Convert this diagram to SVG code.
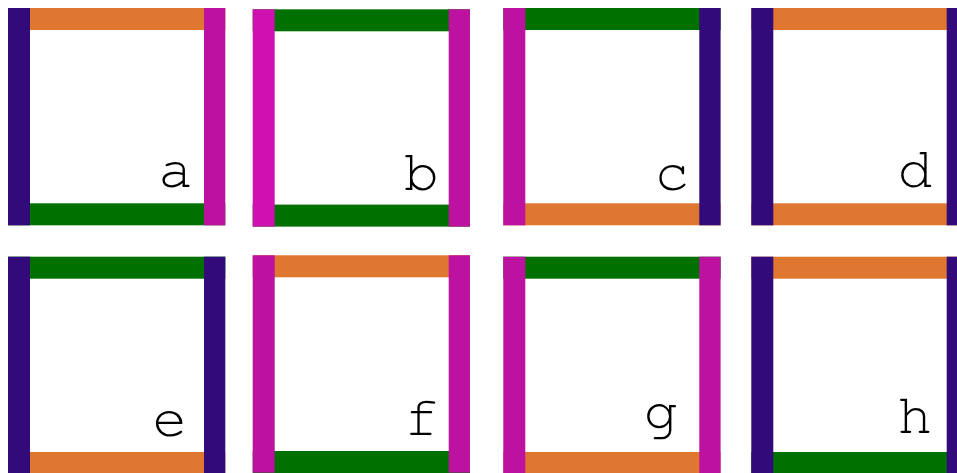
<svg xmlns="http://www.w3.org/2000/svg" width="957" height="473" viewBox="0 0 957 473">
<style>
.o{fill:#DF7731}.i{fill:#330A7A}.m{fill:#BD11A0}.mb{fill:#CF11AF}.g{fill:#007000}
text{font-family:"Nimbus Mono PS","FreeMono","Courier","Liberation Mono","Courier New",monospace;font-size:58px;fill:#000;text-anchor:end}
</style>
<rect width="957" height="473" fill="#fff"/>
<g id="a" transform="translate(8,8)">
<rect class="o" x="0" y="0" width="217.3" height="22"/>
<rect class="g" x="0" y="195.3" width="217.3" height="22"/>
<rect class="i" x="0" y="0" width="22" height="217.3"/>
<rect class="m" x="196" y="0" width="21.3" height="217.3"/>
<text x="185" y="179">a</text>
</g>
<g id="b" transform="translate(252.7,9.3)">
<rect class="g" x="0" y="0" width="217.3" height="22"/>
<rect class="g" x="0" y="195.3" width="217.3" height="22"/>
<rect class="mb" x="0" y="0" width="22" height="217.3"/>
<rect class="m" x="196" y="0" width="21.3" height="217.3"/>
<text x="186" y="181">b</text>
</g>
<g id="c" transform="translate(503.3,8)">
<rect class="g" x="0" y="0" width="217.3" height="22"/>
<rect class="o" x="0" y="195.3" width="217.3" height="22"/>
<rect class="m" x="0" y="0" width="22" height="217.3"/>
<rect class="i" x="196" y="0" width="21.3" height="217.3"/>
<text x="186" y="182">c</text>
</g>
<g id="d" transform="translate(751.3,8)">
<rect class="o" x="0" y="0" width="217.3" height="22"/>
<rect class="o" x="0" y="195.3" width="217.3" height="22"/>
<rect class="i" x="0" y="0" width="22" height="217.3"/>
<rect class="i" x="195.4" y="0" width="21.9" height="217.3"/>
<text x="181" y="179">d</text>
</g>
<g id="e" transform="translate(8,256.7)">
<rect class="g" x="0" y="0" width="217.3" height="22"/>
<rect class="o" x="0" y="195.3" width="217.3" height="22"/>
<rect class="i" x="0" y="0" width="22" height="217.3"/>
<rect class="i" x="196" y="0" width="21.3" height="217.3"/>
<text x="179" y="179">e</text>
</g>
<g id="f" transform="translate(252.7,255.3)">
<rect class="o" x="0" y="0" width="217.3" height="22"/>
<rect class="g" x="0" y="195.7" width="217.3" height="22"/>
<rect class="m" x="0" y="0" width="22" height="217.3"/>
<rect class="m" x="196" y="0" width="21.3" height="217.3"/>
<text x="186" y="180">f</text>
</g>
<g id="g" transform="translate(503.3,256.7)">
<rect class="g" x="0" y="0" width="217.3" height="22"/>
<rect class="o" x="0" y="195.3" width="217.3" height="22"/>
<rect class="m" x="0" y="0" width="22" height="217.3"/>
<rect class="m" x="196" y="0" width="21.3" height="217.3"/>
<text x="175" y="172">g</text>
</g>
<g id="h" transform="translate(751.3,256.7)">
<rect class="o" x="0" y="0" width="217.3" height="22"/>
<rect class="g" x="0" y="195.3" width="217.3" height="22"/>
<rect class="i" x="0" y="0" width="22" height="217.3"/>
<rect class="i" x="195.4" y="0" width="21.9" height="217.3"/>
<text x="181" y="176">h</text>
</g>
</svg>
